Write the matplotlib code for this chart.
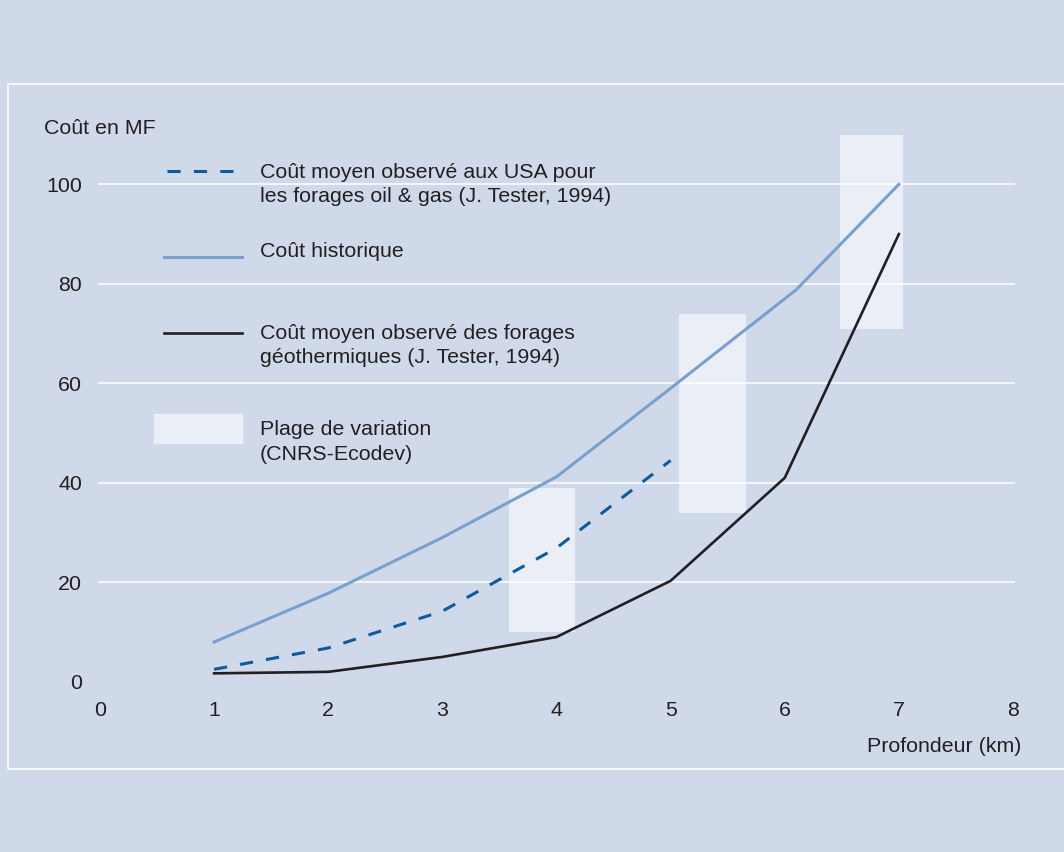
import matplotlib

matplotlib.use("Agg")
import matplotlib.pyplot as plt
from matplotlib.lines import Line2D
from matplotlib.patches import Rectangle

# values
depth = [1, 2, 3, 4, 5, 6, 7]
depth_hist = [1, 2, 3, 4, 5, 6.1, 7]
cout_historique = [8, 17.8, 29, 41.2, 59, 78.8, 100]
depth_usa = [1, 2, 3, 4, 5]
cout_usa = [2.5, 6.8, 14.2, 26.9, 44.5]
cout_geo = [1.7, 2.0, 5.0, 9.0, 20.3, 41, 90]
plage_gauche = [3.58, 5.07, 6.48]
plage_droite = [4.16, 5.66, 7.04]
plage_bas = [10, 34, 71]
plage_haut = [39, 74, 110]
x_ticks = [0, 1, 2, 3, 4, 5, 6, 7, 8]
y_ticks = [0, 20, 40, 60, 80, 100]

labels = [
    "Coût moyen observé aux USA pour\nles forages oil & gas (J. Tester, 1994)",
    "Coût historique",
    "Coût moyen observé des forages\ngéothermiques (J. Tester, 1994)",
    "Plage de variation\n(CNRS-Ecodev)",
]

BG = "#d0d9ea"
BOX = "#eaeff7"
C_HIST = "#7aa0ce"
C_USA = "#0a5ca0"
C_GEO = "#231f20"
TXT = "#231f20"
FS = 15.4

plt.rcParams["font.family"] = ["Liberation Sans", "DejaVu Sans"]
plt.rcParams["lines.scale_dashes"] = False

W, H = 1064, 852
fig = plt.figure(figsize=(W / 100, H / 100), dpi=100, facecolor=BG)


def fx(px):
    return px / W


def fy(py):
    return 1 - py / H


# inner frame
fig.patches.append(Rectangle((fx(8), fy(769)), 1.1, fy(84) - fy(769),
                             transform=fig.transFigure, fill=False,
                             edgecolor="white", lw=1.2, zorder=0))

ax = fig.add_axes([fx(100), fy(681.8), fx(1013) - fx(100), fy(109.7) - fy(681.8)])
ax.set_facecolor("none")
ax.set_xlim(0, 8)
ax.set_ylim(0, 115)
for s in ax.spines.values():
    s.set_visible(False)

widths = [r - l for l, r in zip(plage_gauche, plage_droite)]
heights = [h - b for b, h in zip(plage_bas, plage_haut)]
ax.bar(plage_gauche, heights, width=widths, bottom=plage_bas, align="edge",
       color=BOX, zorder=1)
ax.hlines(y_ticks[1:], -0.02, 8.02, color="white", lw=1.1, zorder=1.5,
          clip_on=False)

ax.plot(depth_hist, cout_historique, color=C_HIST, lw=2.2, zorder=3)
ax.plot(depth_usa, cout_usa, color=C_USA, lw=2.2, dashes=(9.5, 9.5), zorder=3)
ax.plot(depth, cout_geo, color=C_GEO, lw=1.9, zorder=3)

ax.set_xticks(x_ticks)
ax.set_yticks(y_ticks)
ax.tick_params(length=0, labelsize=FS, labelcolor=TXT)
ax.tick_params(axis="x", pad=14)
ax.tick_params(axis="y", pad=13)

fig.text(fx(44), fy(128), "Coût en MF", fontsize=FS, color=TXT, va="center")
fig.text(fx(1021), fy(747), "Profondeur (km)", fontsize=FS, color=TXT,
         va="center", ha="right")

# legend, drawn by hand so handles sit on the first text line
text_y = [184.2, 251.7, 345.3, 442]
for lab, ty in zip(labels, text_y):
    fig.text(fx(260), fy(ty), lab, fontsize=FS, color=TXT, va="center",
             linespacing=1.35)
fig.add_artist(Line2D([fx(167), fx(233)], [fy(171), fy(171)], color=C_USA,
                      lw=2.2, dashes=(9.5, 9.5)))
fig.add_artist(Line2D([fx(164), fx(242)], [fy(257), fy(257)], color=C_HIST,
                      lw=2.2))
fig.add_artist(Line2D([fx(164), fx(242)], [fy(333), fy(333)], color=C_GEO,
                      lw=1.9))
fig.patches.append(Rectangle((fx(154), fy(443)), fx(242) - fx(154),
                             fy(414) - fy(443), transform=fig.transFigure,
                             color=BOX))

fig.savefig("out.png", dpi=100, facecolor=BG)
